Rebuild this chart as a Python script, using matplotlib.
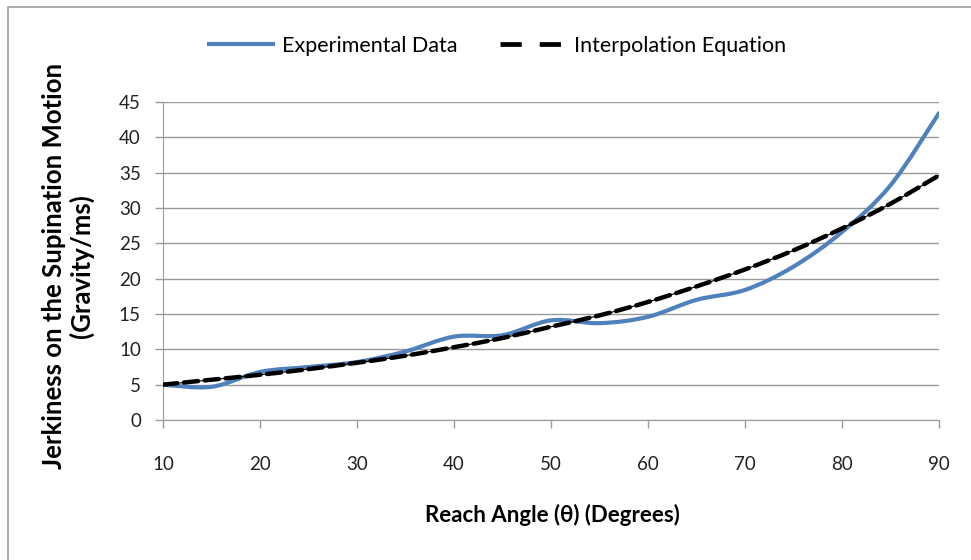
import matplotlib.pyplot as plt
import numpy as np
from matplotlib.path import Path
from matplotlib.patches import PathPatch, Rectangle
from matplotlib.lines import Line2D

plt.rcParams['font.family'] = ['Lato', 'DejaVu Sans']

# Values
angles = [10, 15, 20, 25, 30, 35, 40, 45, 50, 55, 60, 65, 70, 75, 80, 85, 90]
experimental = [5.0, 4.7, 6.8, 7.5, 8.2, 9.7, 11.8, 12.0, 14.1, 13.7, 14.6, 17.0,
                18.4, 21.7, 26.6, 33.2, 43.4]
interpolation = [5.0, 5.7, 6.4, 7.2, 8.1, 9.1, 10.3, 11.6, 13.2, 14.8, 16.7, 18.9,
                 21.3, 24.0, 27.1, 30.6, 34.6]
x_ticks = [10, 20, 30, 40, 50, 60, 70, 80, 90]
y_ticks = [0, 5, 10, 15, 20, 25, 30, 35, 40, 45]

BLUE = '#4F81BD'
GRID = '#9a9a9a'


def smooth_path(xs, ys):
    # Excel-style smoothed line: cubic bezier segments through the points
    pts = np.column_stack([xs, ys]).astype(float)
    verts = [pts[0]]
    codes = [Path.MOVETO]
    n = len(pts)
    for i in range(n - 1):
        p0 = pts[i - 1] if i > 0 else pts[i]
        p1, p2 = pts[i], pts[i + 1]
        p3 = pts[i + 2] if i + 2 < n else pts[i + 1]
        c1 = p1 + (p2 - p0) / 6.0
        c2 = p2 - (p3 - p1) / 6.0
        verts += [c1, c2, p2]
        codes += [Path.CURVE4] * 3
    return Path(verts, codes)


fig = plt.figure(figsize=(9.71, 5.60), dpi=100)
ax = fig.add_axes([0.168, 0.25, 0.799, 0.568])

ax.add_patch(PathPatch(smooth_path(angles, experimental), fill=False,
                       edgecolor=BLUE, lw=3.0, capstyle='round', zorder=3))
ax.add_patch(PathPatch(smooth_path(angles, interpolation), fill=False,
                       edgecolor='black', lw=0.8, zorder=4))
ax.add_patch(PathPatch(smooth_path(angles, interpolation), fill=False,
                       edgecolor='black', lw=3.2, linestyle=(0, (3.2, 1.5)),
                       capstyle='round', zorder=4))

ax.set_xlim(10, 90)
ax.set_ylim(0, 45)
ax.set_xticks(x_ticks)
ax.set_yticks(y_ticks)
ax.grid(axis='y', color=GRID, lw=1.0)
ax.set_axisbelow(True)
for s in ['top', 'right']:
    ax.spines[s].set_visible(False)
for s in ['left', 'bottom']:
    ax.spines[s].set_color(GRID)
ax.tick_params(axis='both', colors=GRID, labelcolor='#222222', labelsize=13.5,
               length=6, width=1.0, direction='out')
ax.tick_params(axis='x', pad=20)
ax.tick_params(axis='y', pad=10)

fig.text(552 / 971, 1 - 515 / 560, 'Reach Angle (\u03b8) (Degrees)', fontsize=16,
         fontweight='bold', ha='center', va='center')
fig.text(68 / 971, 1 - 266 / 560, 'Jerkiness on the Supination Motion\n(Gravity/ms)',
         fontsize=18.5, fontweight='bold', rotation=90, ha='center', va='center',
         multialignment='center', linespacing=1.15)

handles = [Line2D([], [], color=BLUE, lw=3.0),
           Line2D([], [], color='black', lw=3.4, linestyle=(0, (4.5, 3.8)))]
fig.legend(handles, ['Experimental Data', 'Interpolation Equation'],
           loc='center', bbox_to_anchor=(0.512, 0.918), ncol=2, frameon=False,
           fontsize=15.5, handlelength=3.0, columnspacing=2.0, handletextpad=0.4)

fig.patches.append(Rectangle((8 / 971, -0.05), 1.2, 1 - 7 / 560 + 0.05,
                             transform=fig.transFigure, fill=False,
                             edgecolor='#a0a0a0', lw=1.2))

plt.savefig('out.png', dpi=100)
